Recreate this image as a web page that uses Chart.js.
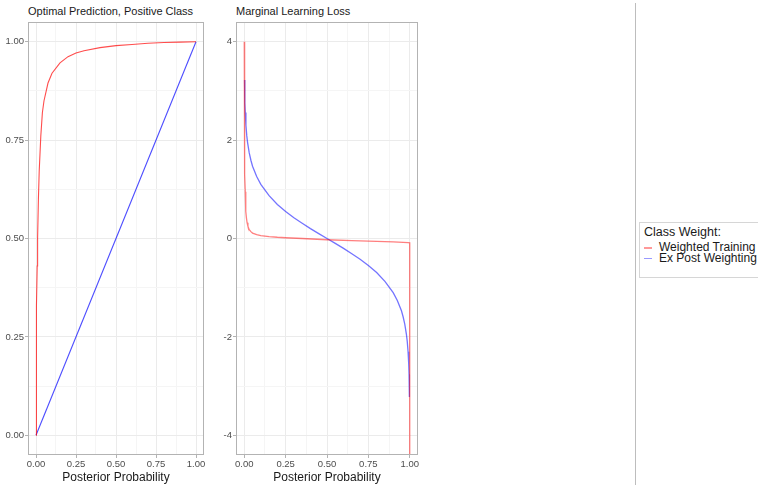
<!DOCTYPE html>
<html>
<head>
<meta charset="utf-8">
<script src="https://cdn.jsdelivr.net/npm/chart.js@4.4.1/dist/chart.umd.min.js"></script>
<style>
  body { margin: 0; background: #fff; width: 758px; height: 485px; overflow: hidden; position: relative;
         font-family: "Liberation Sans", Arial, sans-serif; }
  canvas { position: absolute; top: 0; }
  #c1 { left: 0; }
  #c2 { left: 210px; }
  .ptitle { position: absolute; top: 5px; font-size: 11px; line-height: 13px; color: #1a1a1a; white-space: nowrap; }
  #sep { position: absolute; left: 635px; top: 3px; width: 1px; height: 482px; background: #bdbdbd; }
  #legend { position: absolute; left: 639px; top: 222px; width: 140px; height: 54px; border: 1px solid #d6d6d6; background: #fff; }
  #legend .lt { position: absolute; left: 4px; top: 2px; font-size: 12.5px; line-height: 14px; color: #1a1a1a; white-space: nowrap; }
  #legend .li { position: absolute; left: 19px; font-size: 12px; line-height: 12px; color: #1a1a1a; white-space: nowrap; }
  #legend .key { position: absolute; left: 4px; width: 8px; height: 1.5px; }
</style>
</head>
<body>
<div class="ptitle" style="left:28px">Optimal Prediction, Positive Class</div>
<div class="ptitle" style="left:236px">Marginal Learning Loss</div>
<canvas id="c1" width="210" height="485"></canvas>
<canvas id="c2" width="214" height="485"></canvas>
<div id="sep"></div>
<div id="legend"></div>
<script>
// ===== DATA =====
const seriesNames = ['Weighted Training', 'Ex Post Weighting'];

// left panel: optimal prediction vs posterior probability
const optWeightedX = [0, 0.001, 0.0025, 0.005, 0.0075, 0.01, 0.015, 0.02, 0.03, 0.04, 0.05, 0.075, 0.1, 0.15, 0.2, 0.25, 0.3, 0.4, 0.5, 0.6, 0.7, 0.8, 0.9, 1];
const optWeightedY = [0, 0.09, 0.2, 0.33, 0.43, 0.5, 0.6, 0.67, 0.76, 0.82, 0.85, 0.895, 0.92, 0.946, 0.962, 0.971, 0.977, 0.985, 0.99, 0.993, 0.996, 0.998, 0.999, 1];
const optExPostX = [0, 1];
const optExPostY = [0, 1];

// right panel: marginal learning loss
const lossWeightedX = [0, 0.0005, 0.001, 0.002, 0.003, 0.004, 0.006, 0.008, 0.01, 0.013, 0.017, 0.022, 0.03, 0.04, 0.05, 0.075, 0.1, 0.15, 0.2, 0.25, 0.35, 0.5, 0.65, 0.75, 0.9, 0.99, 1, 1];
const lossWeightedY = [4, 3.4, 2.9, 2.3, 1.7, 1.3, 0.95, 0.7, 0.55, 0.42, 0.32, 0.25, 0.18, 0.14, 0.11, 0.08, 0.06, 0.04, 0.025, 0.015, 0, -0.025, -0.045, -0.055, -0.07, -0.085, -0.09, -5];
const lossExPostX = [0.0016, 0.0025, 0.004, 0.006, 0.01, 0.015, 0.02, 0.03, 0.04, 0.05, 0.075, 0.1, 0.15, 0.2, 0.25, 0.3, 0.35, 0.4, 0.45, 0.5,
                     0.55, 0.6, 0.65, 0.7, 0.75, 0.8, 0.85, 0.9, 0.925, 0.95, 0.96, 0.97, 0.98, 0.985, 0.99, 0.994, 0.996, 0.9975, 0.9984];
const lossExPostY = [3.22, 3.0, 2.76, 2.56, 2.3, 2.09, 1.95, 1.74, 1.59, 1.47, 1.26, 1.1, 0.87, 0.69, 0.55, 0.42, 0.31, 0.2, 0.1, 0,
                     -0.1, -0.2, -0.31, -0.42, -0.55, -0.69, -0.87, -1.1, -1.26, -1.47, -1.59, -1.74, -1.95, -2.09, -2.3, -2.56, -2.76, -3.0, -3.22];

// ticks
const probMajor = [0, 0.25, 0.5, 0.75, 1];
const probMinor = [0.125, 0.375, 0.625, 0.875];
const lossMajor = [-4, -2, 0, 2, 4];
const lossMinor = [-3, -1, 1, 3];

// ===== STYLE =====
const COLORS1 = ['rgba(255,0,0,0.7)', 'rgba(0,0,255,0.7)'];
const COLORS2 = ['rgba(255,0,0,0.5)', 'rgba(0,0,255,0.55)'];
const KEY_COLORS = ['rgba(255,0,0,0.4)', 'rgba(0,0,255,0.4)'];

Chart.defaults.font.family = '"Liberation Sans", Arial, sans-serif';
Chart.defaults.animation = false;

const zip = (xs, ys) => xs.map((x, i) => ({ x, y: ys[i] }));

function axis(min, max, major, minor, fmt, fitSize, isX) {
  const all = major.concat(minor).sort((a, b) => a - b);
  const isMajor = c => c.tick && major.includes(c.tick.value);
  return {
    type: 'linear', min, max,
    afterBuildTicks: s => { s.ticks = all.map(v => ({ value: v })); },
    afterFit: s => { if (isX) s.height = fitSize; else s.width = fitSize; },
    grid: {
      color: c => isMajor(c) ? '#ebebeb' : '#f5f5f5',
      tickColor: c => isMajor(c) ? '#b3b3b3' : 'rgba(0,0,0,0)',
      tickLength: 3, lineWidth: 1
    },
    border: { display: false },
    ticks: {
      autoSkip: false, maxRotation: 0, minRotation: 0, padding: 1, color: '#4d4d4d',
      font: { size: 9.5 },
      callback: v => major.includes(v) ? fmt(v) : ''
    },
    title: isX
      ? { display: true, text: 'Posterior Probability', color: '#1a1a1a', font: { size: 12 }, padding: 0 }
      : { display: false }
  };
}

const panelBorder = {
  id: 'panelBorder',
  afterDraw(chart) {
    const { ctx, chartArea: a } = chart;
    ctx.save();
    ctx.strokeStyle = '#b3b3b3';
    ctx.lineWidth = 1;
    ctx.strokeRect(Math.round(a.left) + 0.5, Math.round(a.top) + 0.5,
                   Math.round(a.right - a.left) - 1, Math.round(a.bottom - a.top) - 1);
    ctx.restore();
  }
};

function lineSet(label, data, color, width) {
  return { label, data, showLine: true, borderColor: color, backgroundColor: color,
           borderWidth: width, pointRadius: 0, tension: 0 };
}

function panel(id, datasets, yAxis, xAxis) {
  return new Chart(document.getElementById(id), {
    type: 'scatter',
    data: { datasets },
    options: {
      responsive: false,
      devicePixelRatio: 1,
      layout: { padding: { top: 22, right: 6, left: 0, bottom: 0 } },
      plugins: { legend: { display: false }, tooltip: { enabled: false }, title: { display: false } },
      scales: { x: xAxis, y: yAxis }
    },
    plugins: [panelBorder]
  });
}

const fmt2 = v => v.toFixed(2);
const fmt0 = v => String(v);

// ===== LEFT PANEL =====
panel('c1', [
  lineSet(seriesNames[0], zip(optWeightedX, optWeightedY), COLORS1[0], 1.1),
  lineSet(seriesNames[1], zip(optExPostX, optExPostY), COLORS1[1], 1.1)
], axis(-0.05, 1.05, probMajor, probMinor, fmt2, 28, false),
   axis(-0.05, 1.05, probMajor, probMinor, fmt2, 30, true));

// ===== RIGHT PANEL =====
panel('c2', [
  lineSet(seriesNames[0], zip(lossWeightedX, lossWeightedY), COLORS2[0], 1.3),
  lineSet(seriesNames[1], zip(lossExPostX, lossExPostY), COLORS2[1], 1.3)
], axis(-4.4, 4.4, lossMajor, lossMinor, fmt0, 26, false),
   axis(-0.05, 1.05, probMajor, probMinor, fmt2, 30, true));

// ===== LEGEND =====
const leg = document.getElementById('legend');
leg.innerHTML = '<div class="lt">Class Weight:</div>' + seriesNames.map((n, i) =>
  `<span class="key" style="top:${24 + i * 10.5}px;background:${KEY_COLORS[i]}"></span>` +
  `<div class="li" style="top:${18 + i * 10.5}px">${n}</div>`).join('');
</script>
</body>
</html>
